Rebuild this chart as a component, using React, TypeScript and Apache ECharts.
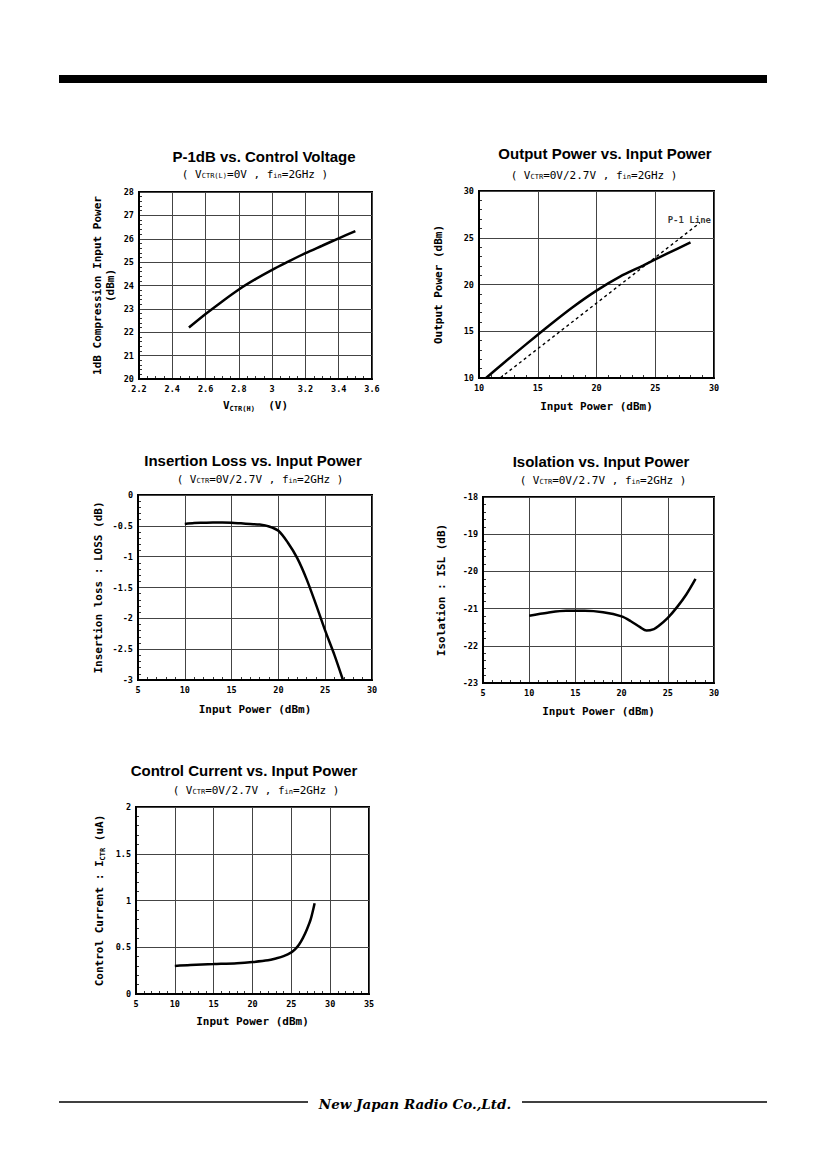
import { useEffect, useRef } from 'react';
import * as echarts from 'echarts';

// P-1dB vs. Control Voltage
const vctrH = [2.5, 2.6, 2.7, 2.8, 2.9, 3.0, 3.1, 3.2, 3.3, 3.4, 3.5];
const p1dbInput = [22.2, 22.78, 23.32, 23.83, 24.27, 24.67, 25.03, 25.38, 25.7, 26.02, 26.33];

// Output Power vs. Input Power
const poutIn = [10.6, 12, 14, 16, 18, 20, 22, 24, 26, 28];
const poutOut = [10.0, 11.5, 13.6, 15.65, 17.6, 19.35, 20.85, 22.05, 23.3, 24.5];
const p1LineIn = [11.8, 28.8];
const p1LineOut = [10.0, 26.6];

// Insertion Loss vs. Input Power
const lossIn = [10, 11, 12, 13, 14, 15, 16, 17, 18, 19, 20, 21, 22, 23, 24, 25, 26, 26.9];
const lossDb = [-0.47, -0.455, -0.45, -0.445, -0.445, -0.45, -0.46, -0.47, -0.48, -0.51, -0.58, -0.77, -1.02, -1.36, -1.77, -2.2, -2.6, -3.0];

// Isolation vs. Input Power
const islIn = [10, 12, 14, 16, 18, 20, 21, 22, 22.7, 23.5, 24, 25, 26, 27, 28];
const islDb = [-21.19, -21.11, -21.06, -21.06, -21.1, -21.21, -21.34, -21.5, -21.59, -21.55, -21.47, -21.25, -20.96, -20.62, -20.2];

// Control Current vs. Input Power
const ictrIn = [10, 12, 15, 18, 20, 22, 23, 24, 25, 25.5, 26, 26.5, 27, 27.5, 28];
const ictrUa = [0.3, 0.31, 0.32, 0.33, 0.342, 0.36, 0.38, 0.405, 0.445, 0.48, 0.53, 0.6, 0.69, 0.8, 0.97];

const MONO = '"DejaVu Sans Mono", "Liberation Mono", monospace';
const SANS = '"Liberation Sans", Arial, sans-serif';

const sub = { fontFamily: MONO, fontSize: 7, fill: '#000', verticalAlign: 'bottom' as const };
const subAxis = { fontFamily: MONO, fontSize: 7, fontWeight: 'bold' as const, color: '#000', verticalAlign: 'bottom' as const };

const zip = (xs: number[], ys: number[]) => xs.map((x, i) => [x, ys[i]]);

const axis = (
  gridIndex: number, min: number, max: number, interval: number,
  name: string, nameGap: number, minorSplit = 5,
) => ({
  type: 'value' as const,
  gridIndex, min, max, interval,
  name, nameLocation: 'middle' as const, nameGap,
  nameTextStyle: {
    color: '#000', fontFamily: MONO, fontSize: 11, fontWeight: 'bold' as const, lineHeight: 13,
    rich: { s: subAxis },
  },
  axisLine: { show: true, onZero: false, lineStyle: { color: '#000', width: 2 } },
  axisTick: { show: false, inside: true },
  minorTick: { show: true, splitNumber: minorSplit, length: 3, lineStyle: { color: '#000', width: 0.8 } },
  splitLine: { show: true, lineStyle: { color: '#444', width: 1 } },
  axisLabel: { color: '#000', fontFamily: MONO, fontSize: 8.5, fontWeight: 'bold' as const, margin: 5 },
});

const curve = (xi: number, data: number[][]) => ({
  type: 'line' as const,
  xAxisIndex: xi, yAxisIndex: xi,
  data, smooth: 0.3, symbol: 'none',
  lineStyle: { color: '#000', width: 2.5 },
});

const title = (x: number, y: number, text: string) => ({
  type: 'text', x, y,
  style: { text, fill: '#000', fontFamily: SANS, fontSize: 15, fontWeight: 'bold', textAlign: 'center', textVerticalAlign: 'middle' },
});

const subtitle = (x: number, y: number, text: string) => ({
  type: 'text', x, y,
  style: {
    text, fill: '#000', fontFamily: MONO, fontSize: 11, textAlign: 'center', textVerticalAlign: 'middle',
    rich: { s: sub },
  },
});

export default function App() {
  const container = useRef<HTMLDivElement | null>(null);

  useEffect(() => {
    if (!container.current) return;
    const chart = echarts.init(container.current, null, { renderer: 'svg' });

    const option = {
      animation: false,
      grid: [
        { left: 139, top: 192, width: 233, height: 187 },
        { left: 479, top: 191, width: 235, height: 187 },
        { left: 138, top: 495, width: 234, height: 185 },
        { left: 483, top: 497, width: 231, height: 186 },
        { left: 136, top: 807, width: 233, height: 187 },
      ].map(g => ({ ...g, show: true, borderColor: '#000', borderWidth: 2 })),
      xAxis: [
        axis(0, 2.2, 3.6, 0.2, 'V{s|CTR(H)}  (V)', 20, 4),
        axis(1, 10, 30, 5, 'Input Power (dBm)', 22),
        axis(2, 5, 30, 5, 'Input Power (dBm)', 23),
        axis(3, 5, 30, 5, 'Input Power (dBm)', 22),
        axis(4, 5, 35, 5, 'Input Power (dBm)', 21),
      ],
      yAxis: [
        axis(0, 20, 28, 1, '1dB Compression Input Power\n(dBm)', 22),
        axis(1, 10, 30, 5, 'Output Power (dBm)', 34),
        axis(2, -3, 0, 0.5, 'Insertion loss : LOSS (dB)', 33),
        axis(3, -23, -18, 1, 'Isolation : ISL (dB)', 35),
        axis(4, 0, 2, 0.5, 'Control Current : I{s|CTR} (uA)', 30),
      ],
      series: [
        curve(0, zip(vctrH, p1dbInput)),
        curve(1, zip(poutIn, poutOut)),
        {
          type: 'line', xAxisIndex: 1, yAxisIndex: 1,
          data: zip(p1LineIn, p1LineOut), symbol: 'none',
          lineStyle: { color: '#000', width: 1.4, type: [3, 3] },
        },
        {
          type: 'scatter', xAxisIndex: 1, yAxisIndex: 1,
          data: [[27.9, 26.9]], symbolSize: 0,
          label: {
            show: true, position: 'inside', formatter: 'P-1 Line',
            color: '#000', fontFamily: MONO, fontSize: 9, fontWeight: 'bold',
          },
        },
        curve(2, zip(lossIn, lossDb)),
        curve(3, zip(islIn, islDb)),
        curve(4, zip(ictrIn, ictrUa)),
      ],
      graphic: [
        { type: 'rect', shape: { x: 59, y: 75, width: 708, height: 8 }, style: { fill: '#000' } },
        title(264, 156, 'P-1dB vs. Control Voltage'),
        subtitle(255, 174, '( V{s|CTR(L)}=0V , f{s|in}=2GHz )'),
        title(605, 153, 'Output Power vs. Input Power'),
        subtitle(594, 175, '( V{s|CTR}=0V/2.7V , f{s|in}=2GHz )'),
        title(253, 460, 'Insertion Loss vs. Input Power'),
        subtitle(260, 479, '( V{s|CTR}=0V/2.7V , f{s|in}=2GHz )'),
        title(601, 461, 'Isolation vs. Input Power'),
        subtitle(603, 480, '( V{s|CTR}=0V/2.7V , f{s|in}=2GHz )'),
        title(244, 770, 'Control Current vs. Input Power'),
        subtitle(256, 790, '( V{s|CTR}=0V/2.7V , f{s|in}=2GHz )'),
        { type: 'line', shape: { x1: 59, y1: 1102, x2: 308, y2: 1102 }, style: { stroke: '#000', lineWidth: 1.5 } },
        { type: 'line', shape: { x1: 522, y1: 1102, x2: 767, y2: 1102 }, style: { stroke: '#000', lineWidth: 1.5 } },
        {
          type: 'text', x: 415, y: 1104,
          style: {
            text: 'New Japan Radio Co.,Ltd.', fill: '#000', fontFamily: '"DejaVu Serif", serif',
            fontStyle: 'italic', fontWeight: 'bold', fontSize: 13.5, textAlign: 'center', textVerticalAlign: 'middle',
          },
        },
      ],
    };

    chart.setOption(option as any);
    return () => chart.dispose();
  }, []);

  return (
    <div
      ref={container}
      style={{ position: 'absolute', left: 0, top: 0, width: '826px', height: '1169px', background: '#fff' }}
    />
  );
}
